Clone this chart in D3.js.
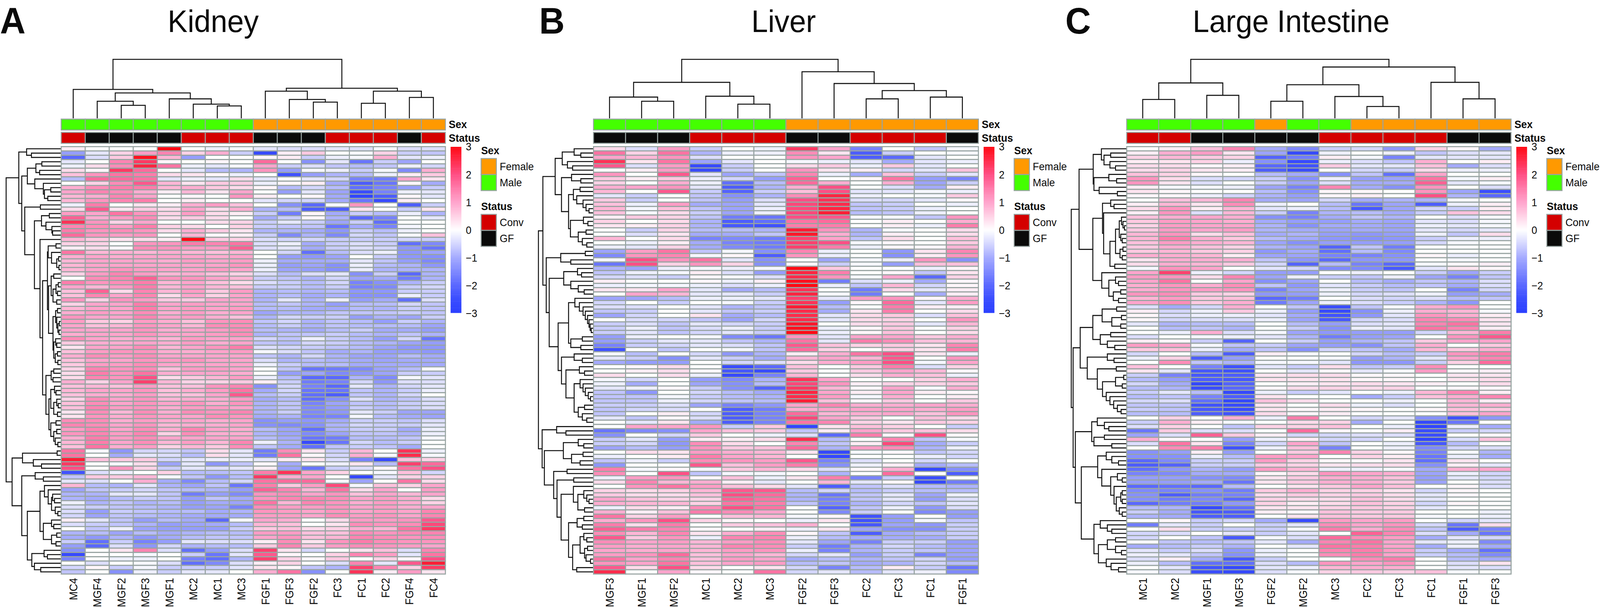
<!DOCTYPE html>
<html>
<head>
<meta charset="utf-8">
<script src="https://cdn.jsdelivr.net/npm/d3@7/dist/d3.min.js"></script>
<style>
html, body { margin:0; height:100%; background:#fff; overflow:hidden; }
svg { display:block; width:100vw; height:100vh; }
text { font-family:"Liberation Sans", Arial, Helvetica, sans-serif; fill:#0a0a0a; }
</style>
</head>
<body>
<svg id="fig" viewBox="0 0 4300 1557" preserveAspectRatio="none"></svg>
<script>
var kidneySamples = ["MC4","MGF4","MGF2","MGF3","MGF1","MC2","MC1","MC3","FGF1","FGF3","FGF2","FC3","FC1","FC2","FGF4","FC4"];
var kidneySex = ["Male","Male","Male","Male","Male","Male","Male","Male","Female","Female","Female","Female","Female","Female","Female","Female"];
var kidneyStatus = ["Conv","GF","GF","GF","GF","Conv","Conv","Conv","GF","GF","GF","Conv","Conv","Conv","GF","Conv"];
var liverSamples = ["MGF3","MGF1","MGF2","MC1","MC2","MC3","FGF2","FGF3","FC2","FC3","FC1","FGF1"];
var liverSex = ["Male","Male","Male","Male","Male","Male","Female","Female","Female","Female","Female","Female"];
var liverStatus = ["GF","GF","GF","Conv","Conv","Conv","GF","GF","Conv","Conv","Conv","GF"];
var intestineSamples = ["MC1","MC2","MGF1","MGF3","FGF2","MGF2","MC3","FC2","FC3","FC1","FGF1","FGF3"];
var intestineSex = ["Male","Male","Male","Male","Female","Male","Male","Female","Female","Female","Female","Female"];
var intestineStatus = ["Conv","Conv","GF","GF","GF","GF","Conv","Conv","Conv","Conv","GF","GF"];

var sexLevels = ["Female","Male"];
var statusLevels = ["Conv","GF"];
var legendTicks = [3,2,1,0,-1,-2,-3];

var kidneyValues = [
[.2,0,0,0,3,0,-.2,-.1,-.3,-.4,-.4,-.3,-.4,-.1,-.4,-.4],
[-1.2,-.3,.5,1.1,1.4,.5,.9,-.6,-2.6,.2,.6,0,-.1,.5,-.6,-.7],
[-2,-.4,.6,2.9,.8,-1.2,0,0,.1,.2,-.6,-.2,-.1,.9,-.3,-.2],
[-.3,0,1.4,2.3,.1,0,.1,0,1.7,0,-1.4,-.3,-1.8,-.6,-1.1,0],
[-.2,.4,1.3,2.6,1.6,-.2,-.3,-.1,1,-.6,-.4,-.7,-.8,-.7,-.2,-.5],
[.4,.1,2.3,1.7,0,-.3,-.8,-.9,1.2,-1.2,-.1,-.2,-.6,-.1,-1.5,.9],
[.7,1.2,1.6,1.5,.4,.3,.1,-.2,0,-2.4,-1.2,-.9,-.8,-.2,.2,.6],
[-.8,1.7,1.7,1.6,-.3,-.2,-.3,.4,-.3,0,-.3,-.5,-1.6,-1.7,1,.3],
[0,.5,1.3,1.9,.8,.3,.6,.6,-.2,.1,.2,-1,-2.2,-1.8,.1,-1],
[.9,1.3,1.5,1.5,.8,.9,.6,.4,.1,-.8,-.5,-.8,-1.9,-1.6,-1.2,-.6],
[1,1.4,1.3,.9,.2,.8,.3,1,0,-1.2,-.3,-1.1,-2.5,-1.6,-.2,-.3],
[.8,.9,1.4,1,0,.1,0,1.2,.2,0,.1,-1,-2.8,-2.2,.1,-.3],
[.8,1.2,1.4,1.5,0,.2,0,0,-.3,-.5,-.5,-1,-1.8,-2.6,.2,0],
[-.2,1.5,0,.3,.2,.9,1.1,.7,0,-1.4,-2,-.1,1.2,0,-2.2,-.6],
[.4,1.9,.3,.6,.4,1,.4,.9,-.9,-.8,-2.2,-2.2,.3,0,-.6,.3],
[1.1,1,1.6,1.2,.5,1.1,.4,.2,-.6,-1.7,.1,-1,-.6,-.8,-.2,-.9],
[1.8,.9,1.1,1.3,.4,.6,.4,0,-1,-.6,.1,-.9,-2,-1.6,0,-.3],
[2.4,1.2,.5,1,0,0,.4,.5,-.6,-.3,-.6,-1.1,-.6,-1.9,0,0],
[1.4,1.3,1.1,1.5,.5,.4,0,.5,-.6,-.7,-.7,-1.8,-1,-1.6,-.1,0],
[1.5,1.2,1.3,1.2,.4,.9,.6,.3,-.9,-.9,-1,-1.3,-.6,-.8,-.2,0],
[1.7,1.2,1.1,1.2,0,.8,.1,.2,-.6,-1.5,-.9,-1.5,-.5,-.7,-.1,.7],
[.8,.6,.3,.4,.2,3,.6,.5,-.4,-.5,-.5,-.6,-.6,-.6,-.5,-.6],
[.5,.5,0,1.2,1.2,1.5,1.4,1.6,-.4,-.2,-1,-.6,-.4,-.6,-1.9,-1.5],
[.2,.4,.1,1.3,1.2,1.1,1.1,1.8,-.4,-.3,-1,-.6,-.4,-.5,-1.3,-1.8],
[1.6,.8,.9,.8,.9,.8,.7,.8,0,-.5,-1.9,-.8,-.4,-.2,-1.3,-1.1],
[.9,1,.9,1,1,1,.9,1,0,-1.2,-1.3,-1.1,0,-.6,-1.3,-1.4],
[.8,1,1,1,.9,1.1,1,1.1,-.2,-1,-1,-1,-.3,-.7,-1.2,-1.5],
[.8,1,1,1,1,1,1,1.2,-.2,-1.2,-1.1,-1.4,-.2,-.8,-.9,-1.3],
[.8,1,1.2,1.1,1,1,1.1,1,-.2,-1.1,-1.2,-1.4,-.2,-.9,-.9,-.9],
[.5,1.1,1.4,1.1,.8,.9,.7,.5,-.4,-.8,-.4,-.3,-1.4,-.6,-2,-.9],
[0,1.3,1.4,1.8,1.2,1.2,1,.8,-.6,-.7,-.9,-.5,-1.1,-1,-1.7,-.9],
[1.5,1.2,1.3,1.5,.8,1,.7,.4,-.4,-.6,-.8,-.5,-1.6,-1.4,-.9,-.6],
[1,.8,1.1,1.5,.8,1,.8,.7,-.6,-.6,-.8,-.6,-1.6,-1.5,-.6,-.5],
[.7,1.8,.4,1.4,.8,1.1,.6,1.1,-.9,-.8,-.9,-.8,-1.3,-1.3,-.6,-.6],
[.7,1.4,1,1.4,.4,1,.5,1,-.9,-.8,-1,-.9,-1.4,-1.4,-.2,-.6],
[1.2,.5,1.2,1.1,.6,.6,1,1,-.9,-.3,-.9,-.2,-1.2,-1,-1.9,-.4],
[.5,1,1,1.5,1,1.1,1,1,-.8,-.7,-.9,-1.2,-.8,-.8,-.5,-.7],
[.8,1,1,1.5,1,1.1,1,1.1,-.8,-.8,-1,-1,-.8,-.9,-.6,-.7],
[.9,1.1,1,1.3,.9,1.1,.9,1,-1.1,-.9,-.9,-.7,-.7,-.7,-.6,-.7],
[1.2,1,1,1.4,1,1.1,.9,.7,-.9,-.5,-.6,-.6,-1.2,-.9,-1.1,-.6],
[1.1,.6,.5,1.1,.9,.7,1.2,1.3,-.7,-.5,-.9,-.7,-.8,-1.2,-.6,-.9],
[1,.7,.8,1.2,1,.8,1.3,1.3,-.8,-.6,-.9,-.7,-.8,-.8,-.8,-1.1],
[1,1,1,1.2,.9,1,1.1,1.3,-.8,-.9,-1,-.8,-.6,-1,-1,-1.2],
[.9,1,1,1.2,1,1,1.1,1.3,-.9,-.7,-.7,-.6,-.8,-.9,-.7,-.9],
[1.3,1,.9,1,.8,1.1,1,1,-.5,-.7,-.2,-.6,-.8,-1.2,-.5,-1.8],
[.6,.9,.9,1,.9,1.1,.9,1,-.7,-.8,-.5,-.6,-.8,-.9,-1.1,-1.2],
[.3,1,1,1.3,.8,1,1.2,1.5,-.4,-.5,-.6,-.7,-.8,-1.1,-1.3,-1.3],
[.7,1.1,1.2,1.2,.9,.9,1,1.1,-.1,-.4,-.7,-1,-.9,-1.2,-1.2,-1.3],
[.9,1.3,1.1,1.3,1,1,1,1,-.7,-.9,-.5,-.9,-1.1,-1.1,-.8,-1],
[.7,1,1,1.2,1.1,1.2,1,1,-.4,-.9,-.8,-.9,-1,-1.1,-1,-1],
[.6,1.1,1.1,1.3,1,1,1,1,-.2,-.6,-.8,-.8,-1,-1,-1,-1],
[.5,1.4,1.2,1.3,.7,1.1,1.1,1,0,-.7,-1.8,-1.7,-1.5,-1.1,-.8,-.1],
[.4,1.5,1.2,1.6,.9,1,1,.9,0,-1.2,-1.1,-1.5,-1.3,-1.1,-.6,-.6],
[.4,1.4,1.2,2,.4,.6,.8,1.1,-.2,-.8,-2,-2,-.9,-1.5,-.1,-.3],
[.9,.5,1,2.2,.8,.5,.5,.6,.2,-.6,-1.7,-1.6,-.5,-1.3,-.4,-.4],
[.7,.8,.7,1.1,.7,.7,1.2,1.4,-1.4,-.5,-1.6,-2,-.3,-.9,-.5,-.3],
[.8,1,1,1.2,.7,.9,1.1,1.6,-1,-.5,-1.8,-1.8,-.7,-.9,-.6,-.2],
[.7,.9,.9,1.1,.7,.7,1,1.9,-.8,-.6,-1.9,-2.2,-.7,-.9,-.5,0],
[.5,1.3,1,1.2,.8,.9,.9,1.1,-1,-.8,-1.9,-1.4,-.4,-.9,-.7,-.4],
[.7,1.3,1,1.2,1,1.2,.9,1.2,-.9,-.7,-1.6,-1.1,-.7,-.8,-.6,-.4],
[.7,1.4,1.1,1.2,.9,1.1,1.1,1,-.9,-.7,-1.5,-1.2,-.6,-.8,-.6,-.4],
[.3,1.3,.8,1.3,.9,1.3,1.2,1.4,-.9,-.6,-1.5,-1.3,-.3,-.6,-1.1,-1.1],
[.3,1.2,.9,1.2,1,1,1.3,1.2,-1,-.9,-1.6,-1.6,-.1,-.8,-1,-1.1],
[1.3,1.3,.9,1.1,.9,1,.9,1,-1.4,-1.2,-1.3,-1,-.6,-.6,-.7,-.4],
[1.4,1.3,1,1.2,.8,.9,.9,1,-1.4,-1.5,-1.4,-.9,-.5,-.6,-.6,-.3],
[1.1,1.4,1,1.3,.9,1.4,1,.9,-.8,-1.1,-1.9,-.9,-.6,-.6,-1,-.2],
[1.2,1.4,1.1,1.4,.5,1.3,.9,.9,-.9,-1.1,-1.5,-1.1,-.7,-.7,-.9,-.2],
[.9,1.5,1.1,1.3,1,1,1,1,-.8,-1,-1.8,-1.7,-.8,-.8,-.7,-.1],
[.8,1.5,1,1.3,.8,1.1,.8,1.4,-.2,-.9,-2.6,-1.8,-.5,-.8,-.6,0],
[.7,1.6,.9,1.1,.5,.8,.6,1.3,-.7,-1,-1.9,-.7,-.6,-.7,-1,0],
[1.6,-.1,-1.3,-.5,-.5,-.7,.4,-.3,-1.7,1.3,.3,-.6,.8,0,2.4,-.2],
[1.6,0,-1,-.3,-.4,-.8,.4,-.3,-1.7,1.6,.1,-.5,.9,-.1,2.5,-.1],
[2.7,.7,.6,.6,-.5,-.3,-.2,-.2,-.3,.2,.3,-.4,-1.6,-2.6,.7,.5],
[2.3,0,-.1,.4,-1.1,-.3,-1.3,-.7,.1,-1,0,-.2,.3,-.8,2.2,1.7],
[2,0,1.2,.5,-.6,-.3,-.4,-.3,.2,-1.1,-1.8,-.6,-.4,.1,1.6,2],
[-2.4,-.4,-.2,0,.5,-.8,-.8,-.7,1.5,2.4,1,.5,0,-.1,.7,-.5],
[-.7,.6,.6,.8,-.1,-.7,-1.3,-.8,2.3,.9,1,0,-2.7,-.3,.5,.5],
[-.3,-.4,0,.9,-1,-1.5,-.8,-.5,1.6,1.7,1.7,-.1,-1.1,0,1.6,.4],
[.8,-.8,-.9,-.3,-.9,-1.1,-.7,-1.8,1.5,.6,1.1,2.1,-.1,.7,.5,1],
[-1.1,-.7,-.6,-.5,-.7,-.8,-.9,-1.2,1.8,1.4,.8,1.6,.4,1,0,1.1],
[-.9,-.9,-.3,-.3,-.7,-1.7,-1.2,-1.5,1.2,1.3,1,1.2,.7,1,.8,1],
[-.9,-1,-.8,-.6,-.7,-1.2,-.7,-1,1.2,1.4,1.4,1.3,1,1.1,.9,.4],
[-.2,-.9,-.7,-.9,-.8,-1.2,-1,-1.1,1.6,.8,1.4,1.2,.9,1.1,.9,.5],
[-.4,-.6,-.7,-.8,-.9,-1.2,-1.1,-1.6,1.3,1.1,1.1,1.2,1,1.1,.9,1],
[-.4,-1.2,-.6,-.7,-.8,-.8,-1,-.9,1.2,1.1,1,1.2,1,1.1,1,1.4],
[-.5,-1.1,-.7,-.8,-.9,-1,-1,-1,1.1,1.1,1,1.3,1.1,1.2,1,1.4],
[.2,-.3,-.7,-1.2,-.8,-1,-2,-.1,1,.9,0,.4,1.1,1.1,1.2,1.9],
[-.4,-.6,-.7,-.9,-1.2,-1.1,-1,-.8,.8,.7,0,.3,1.3,1.2,1.3,2.1],
[0,-.7,-.2,-1.1,-1.2,-1.2,-1.2,-.6,.6,.7,.4,.5,.9,.8,1.6,2.3],
[-.9,-.8,-1.1,-.8,-1,-.9,-.8,-.8,1.1,1.1,.7,.7,1.3,1.2,1.3,1.4],
[-1,-1.3,-.9,-1.3,-1,-.8,-.7,-.7,1,1.2,.7,.8,1.4,1.3,1.2,1.3],
[-.6,-1.9,-.6,-1.6,-1.2,-.3,-.4,-.4,.2,1.3,.3,1.2,1.5,1.3,1.2,1.2],
[-1.2,-2,-.4,-1.3,-.5,-.9,-.8,-.8,.6,1.4,.6,1.1,1.3,1.2,1.1,1],
[-1.4,0,.3,1.4,-.4,-1.9,-1.2,-.4,2.2,.3,-.5,0,.3,.7,-.4,1.4],
[-2.6,0,0,-.1,0,-.6,-1.8,-.3,1.9,.1,0,.5,1.4,1.1,-.3,1.6],
[-1.6,0,-.2,-.2,0,-1.6,-1.9,-.9,2.2,.5,.1,.6,0,.5,.1,2],
[0,-.4,0,-.1,-.4,-1.9,-1.5,-.4,.2,.5,0,-.4,1.4,-.3,1.9,2.7],
[-.5,.1,-.6,-.1,-.6,-.6,-.6,-.3,.3,.1,-.7,-.9,2.2,1.4,.5,2.3],
[-.7,0,-1.4,-.2,-.6,-.3,-.3,0,.9,1.6,-1.4,0,2.4,.2,1.1,.3]
];

var liverValues = [
[.4,-.4,1.1,-.6,0,-.2,2.3,1,-1.6,0,-.7,-.1],
[1.6,.5,1.6,-.9,-.2,-.2,1.3,.3,-2.2,-.6,0,-.1],
[1,.8,1.2,-.4,0,0,1.2,1,-2.2,-2,-.3,0],
[2.4,.3,1.6,-1.1,-.3,0,-.1,-.2,-.3,-1,-.3,-.2],
[1.9,-.4,1.1,-2.6,-.6,0,.4,.6,-.2,.6,-.3,0],
[0,.2,1.1,-2.6,-.6,0,1.2,.3,.2,-.5,-.3,.7],
[1.2,0,1.9,-.3,-1.1,-.7,1.4,-.2,-1,.7,-.6,-.3],
[.6,.2,.6,-.2,-.5,-1.2,1.8,0,.1,1.6,-1.2,-1.6],
[.5,0,.9,-.2,-1.9,-.8,1.7,.9,0,.9,-1.1,-.6],
[.9,1,1.2,-.3,-2.2,-.9,.9,2,0,-.4,-1,.2],
[.8,0,1.9,-.6,-2.1,-.6,.7,2,-.3,-.3,-.1,-.2],
[-.3,-.6,0,-.7,-1.4,-.9,1.3,2.6,-.2,0,-.1,.6],
[.6,-.6,0,-.7,-1.2,-.4,2,2.4,-.4,-.5,-.3,.1],
[.7,-.2,1.1,-1,-1.1,-.3,2.1,2.5,-.7,-.6,0,-.2],
[.8,-.1,.7,-.7,-1.1,-.2,2.1,2.6,-.7,-.6,-.2,0],
[.7,-.1,.4,-.6,-1.1,-.2,2.1,2.7,-.8,-.7,-.2,0],
[.2,.6,.5,-.7,-1.7,-1.8,2,1.9,-.1,-.1,-.7,1.2],
[.5,0,.4,-.9,-2.2,-1.9,1.6,1.7,0,.2,0,.9],
[.3,.2,.5,-.9,-2.3,-2.4,1.5,1.5,0,.2,-.2,1.5],
[0,-.6,.5,-.8,-.8,-.9,2.7,1.2,-.9,-.1,0,.4],
[0,-.4,.3,-1,-1,-.7,2.8,.9,-.9,.2,0,.4],
[.8,0,.4,-1.6,-1.5,-1.7,2.2,1,-.7,.4,0,.7],
[0,-.2,.2,-1,-1.6,-1.7,2.2,2,-.1,.1,0,.6],
[-.2,-.3,.5,-1,-1.5,-1.7,2.2,1.5,-.2,.1,.1,.8],
[-1.1,1.1,1.6,-.7,-.1,-1.4,1.4,-.2,0,-1.3,.3,1.4],
[-1.5,1.2,1.4,-.1,.1,-2.2,1.2,-.2,0,-1.4,.2,1.2],
[-.1,2,1.2,1.6,-.3,-1.4,0,-1.1,-.1,-.2,1.2,-1.4],
[-1.8,2,.5,1.2,.5,-1.4,.1,-.6,-.1,-1.2,.7,.7],
[-.9,-1.1,-.2,-.1,-.2,-.1,3,.6,0,0,-.2,.1],
[-.7,-.2,-.1,.2,-.4,-1.2,2.6,1.5,0,.1,-.7,.3],
[-.5,-.4,-.6,.1,-.1,-.4,2.5,1.2,-.1,1,-2,.5],
[.2,0,0,.1,-.2,.2,2.9,-1.7,-.4,-.2,-1,.1],
[-.2,-.1,-.1,-.2,-.4,-.2,3,-.2,-.7,.8,-.5,.1],
[.3,.3,1,-.3,-1,-.8,2.4,0,-1.7,.4,-.3,.2],
[0,1,.8,-.3,-.3,-.6,2.6,-.1,-1.7,0,-1,.2],
[-1.1,-1.1,-.8,-.2,-.2,-.3,2.2,-.3,1.1,1.2,.1,.9],
[-.5,0,-.6,0,-.1,-.6,2.4,-1.2,.1,1.7,-.3,1.1],
[-.4,-.4,0,-.3,-.9,-.7,2.7,-.8,0,1.5,.2,.2],
[-.7,-.6,0,-.3,-.7,-.6,2.5,-1,.3,1.5,0,.4],
[-1.1,-.5,0,.3,-1,-.8,2.5,-.3,.4,.6,-.4,.7],
[0,-.4,-.5,-.7,-1.1,-.5,2.5,-.3,.4,.5,0,1.2],
[-.6,-.4,-.7,-.3,-.5,-.6,2.8,0,.4,.6,-.3,.8],
[-.6,-.2,-.7,-.4,-.2,-.6,2.9,-.2,.1,.6,0,.5],
[-.6,-.3,-.7,-.5,-.3,-.6,3,-.2,.1,.7,0,.4],
[-1.2,-.2,0,-.1,-1.5,-1.8,1.2,-.3,1,1,.6,.9],
[-1.2,-.6,-.3,-.3,-.7,-.9,1.6,-.3,1.5,1.3,.7,.8],
[-1.6,-.6,-.5,-.3,-.4,-.7,1.9,.7,.5,.6,.3,1.4],
[-2.4,0,-.7,0,-.1,-.7,1.7,.5,0,.5,.3,1.5],
[-.1,-.8,0,-.5,-1.3,-.9,.2,.9,1.6,2,.3,-.2],
[-.3,-.6,-1.4,-.3,-.6,-1,.8,1,.8,1.9,0,1.2],
[-1,-1.2,-1.2,0,-.5,-.4,.4,.9,1.1,2,-.1,1],
[0,.1,.4,0,-2.5,-2,.7,0,.6,1.5,-.4,.5],
[0,.2,.4,.1,-2.3,-2.5,.6,0,.6,1,.8,.1],
[.4,0,.4,-.2,-2.6,-1.6,.8,0,.4,.9,.7,-.2],
[-.1,-.5,0,-1.2,-1.5,-.9,2.4,1,0,0,.5,.9],
[-.2,-1,0,-1.1,-1.4,-.8,2.1,1.2,.2,.5,.5,.6],
[-.3,-.2,.1,-.6,-1.4,-2.1,2.3,.8,.1,1,-.1,.9],
[-.7,-1.3,0,-.5,-.8,-1,2.6,1,.2,1,.2,.1],
[-.7,-.7,-.1,-.6,-.8,-.9,2.5,1.1,-.1,.9,0,.2],
[-.7,-.7,-.2,-.5,-.7,-.8,2.7,.7,.1,.6,0,.6],
[-.6,-.6,-.4,-1.1,-1.6,-1.3,1,1.4,.9,.9,1,.9],
[-.7,-.5,-.4,0,-2.2,-1.7,.9,1,1,1,.9,1.1],
[-.7,0,.2,-.5,-2.2,-1.6,1.7,.8,.9,1,.7,1.2],
[-.3,-.7,.1,-.4,-2.2,-1.6,2.1,1,.6,0,.7,.4],
[0,-.3,.3,-1,-2.2,-1.6,1.6,1.4,.5,.3,.6,.5],
[0,1,1,1.2,-.6,.6,-2.8,.3,.7,.5,0,-.6],
[-1.8,-1.5,-1.4,1,.7,.6,-.7,.2,1,.6,.7,.4],
[-1.4,0,-.5,.6,0,-.2,-.4,-2,1.5,.1,2,.1],
[-.6,-.3,-1.2,.2,.2,.4,2.5,-.8,0,1.4,-.7,-.1],
[-.6,-.5,-1.3,1.3,.4,0,1.4,-.7,.2,2.1,-1,-.6],
[-1.1,-.8,-1.2,1.2,.6,.7,1.7,-.9,1.1,1.3,-.9,-.2],
[0,.4,.3,1.1,.9,.8,.3,-2.7,-.1,.1,-.7,-.5],
[-.2,0,.2,1.5,1,.8,0,-2.7,0,0,-.2,-.5],
[-.7,-.2,-.6,1.3,1.2,1.1,1.9,-1.6,-.4,0,-.5,0],
[-1.3,0,0,1.9,.7,1.1,1.5,-1.4,-.2,.2,-1,-.8],
[1.5,-.1,.1,-.1,.6,.8,.4,-.4,.1,.9,-2.7,-1.4],
[1.3,0,2,-.7,-.1,-.1,0,-.9,0,1.7,0,-2.2],
[-.2,1.1,1.2,.1,.7,-.2,.3,1.5,-1.6,-.6,-2.5,0],
[.4,1.4,.8,.9,.2,-.3,0,.8,-.3,.1,-2.6,-1.7],
[0,1.2,1.6,1.1,.7,.4,-.3,-2.2,-.7,-.4,-.8,-.9],
[.5,.4,.5,.8,1.9,1.9,-.8,-.5,-.8,-.6,-.8,-.8],
[.6,.4,.4,.7,2,1.7,-.9,-1.8,-.7,-.3,-1.1,-.2],
[1,.7,.5,.5,1.8,1.6,-.9,-1.6,-.7,-.3,-1.2,-.4],
[.9,.8,.8,.5,1.6,1.5,-.7,-1.6,-.9,-.5,-.7,-.3],
[-.2,.4,.2,1.3,2,1.6,0,-2.1,-.7,-.2,-1.3,-.4],
[.9,.2,.7,1.5,1.3,1,0,-1.5,-.6,0,-1.5,-1.2],
[1.6,.5,1.1,0,.7,.8,-.1,.1,-2.4,-1.2,0,-1.2],
[.9,1.2,2,.5,.1,0,-.2,.3,-2.4,-1.2,-.1,-.7],
[1.5,.4,1.5,0,.6,.7,.9,0,-2.3,-1.1,-1.3,-.6],
[1.8,1.5,1.4,.1,0,.2,-.2,.3,-1.1,-1.4,-1.4,-.6],
[1.3,.8,1.4,.3,.9,1.3,.1,-.7,-2.2,-1,-.8,-.6],
[1.9,.6,1.2,-.2,1.4,1.4,-.2,-.8,-1,-1,-1,-.6],
[1.3,1,1.1,.8,1.1,1.3,-.3,-1.1,-1.6,-.6,-.6,-1.2],
[1.1,.9,1,.8,1.4,1.3,-.6,-1.7,-.9,-.5,-.8,-1.1],
[1,.9,1,.8,1.1,1.2,-.2,-1.6,-.9,-.6,-.7,-1.1],
[1.1,1.2,1.7,.7,1,.8,-.5,-.3,-1.2,-.6,-1.6,-1.1],
[1.6,1,1.4,.7,1.1,1,-1,-.8,-.9,-.7,-.5,-1.2],
[1.2,1,1.6,.7,1,1.1,-.8,-.7,-1,-.9,-.5,-.8],
[1.9,.4,2,.4,0,.3,-.5,-1.6,-.8,.2,-.6,-1.8],
[2.5,0,1,.1,0,1.6,-.5,-.3,-.8,-.3,-.2,-1.5]
];

var intestineValues = [
[0,.2,.7,1.4,-1,-1.5,-.6,-.5,-1.3,.5,.1,-1],
[.2,.9,1.1,.3,-1.1,-2.6,-.2,0,-.2,-.7,-.4,-.3],
[.5,.8,.6,.5,-2.1,-1.7,.2,-.1,-1.6,-.3,-.3,-.3],
[.2,.3,.5,-.2,-1.4,-2.6,-.2,-.4,-.7,.9,0,.2],
[.4,.4,.1,.2,-2,-2.4,.6,-.3,-.3,.7,-1,-.4],
[.4,.5,.3,.2,-2.2,-2.5,0,-.5,-.6,.4,-.2,-.2],
[.7,.5,.1,0,-.8,-1,-1.4,-.7,-1.9,1,0,0],
[1.2,.4,-.4,-.5,-.6,-1.4,-.2,-1.2,-1.1,1.6,-.1,.2],
[1.2,.3,-.4,0,-.6,-1.1,-.4,-1,-1,1.8,-.3,-.1],
[.2,-.1,-.1,-.2,-1.1,-1.6,1.4,-1,-1.4,1.2,0,-.4],
[.3,.1,0,0,-.8,-1.4,.1,.1,0,1.2,-1.1,-2.5],
[.1,.1,-.2,-.5,-.9,-1.2,.1,.2,0,2,-.9,-2],
[0,.7,.8,1.4,-1,-1.1,-.5,-1,-.9,-.9,-.1,0],
[.2,.8,.3,1.3,-.2,0,-.8,-1.8,-1.1,-2.2,-.2,.2],
[.4,1.2,.2,.8,-.3,-.2,-.8,-2.3,-1.1,-.5,-.6,.2],
[.2,1.2,-.4,.8,-.6,-1.6,-.9,-.8,-1,-.6,.7,.4],
[.7,.9,1,.9,-1.4,-1.6,-1,-.7,-.9,0,-.4,-.1],
[.6,1.1,1,.9,-1,-1.2,-1.2,-1,-1.1,-.3,-.4,-.1],
[.5,1.1,1,1,-.9,-1.4,-1,-1,-1.1,-.2,-.3,-.1],
[.6,1.1,1,1.1,-.9,-1,-1.1,-1,-1.1,-.3,-.5,-.3],
[.8,1.2,.4,.7,-1,-.9,-1.2,-1.3,-1.2,-.2,-.7,.4],
[.8,1.5,.9,.6,-.8,-1,-1.3,-1.4,-1.3,-.6,-.2,-.2],
[.7,1.1,.9,.8,-1.1,-1.4,-1.2,-1.2,-1.2,-.5,-.1,0],
[.6,.9,.7,.5,-.9,-1.1,-2.1,-.7,-1.7,0,0,0],
[.6,.8,.6,.5,-1.3,-1,-1.9,-.8,-1.5,0,0,0],
[.9,.9,.8,.2,-1.1,-1.1,-1.6,-1.6,-1.4,.1,-.2,0],
[.3,.9,.9,.9,-.7,-1.3,-2,-1.3,-1.3,0,-.1,0],
[.4,.9,.8,.6,-.5,-2.1,-.8,-1.6,-2,-.1,.1,.2],
[-.1,1.2,1,0,-.3,-.5,-1.5,-1.5,-2.3,-.3,.3,.1],
[1,2.2,-.2,-.5,-1.2,-1.2,0,-.2,0,-.6,-1.1,-.6],
[1.1,1.2,.4,1.4,-1.1,-.2,-.6,-.7,-.2,-1.1,-1.6,-.7],
[1,1.6,0,1,-1.4,-1.1,0,-.8,-1,-.7,-.9,-.4],
[.9,1.2,.9,1.3,-.7,-1.3,-.3,-.6,-.8,-.7,-1,-.4],
[.9,1.2,1.1,1.2,-1.6,-1.1,-.2,-.6,-.7,0,-1.6,-.5],
[1.2,1.3,.6,.5,-1.3,-1.2,-.2,-.5,-.4,-.2,-1.2,-1],
[.8,1.1,.6,.7,-2,-1.7,0,-.4,-.5,-.4,-.8,-.7],
[1,1.3,.6,.9,-1.7,-1.1,-.2,-.4,-.6,-.9,-1.3,0],
[-.4,-1,-.5,.9,0,-.7,-2.5,-.7,-.1,.9,1.2,0],
[.2,-.5,-.2,.6,-.2,-1.2,-2.6,-1.4,-.2,.9,.8,-.1],
[.1,-.4,-.2,-.2,-.3,-1,-2.4,-1.3,-.3,1.2,.9,.2],
[.1,-.5,-.4,-.4,-.2,-1.1,-2.3,-.5,-.4,1.4,1.3,.3],
[-.3,-.9,-.8,-.8,0,-.8,-1.2,-.4,-.3,1.4,1.6,.3],
[0,-.8,-.7,-.9,0,-.6,-1.4,-.2,-.3,1.6,1.4,.2],
[0,-.2,.9,-.4,-.1,-1.1,-1.3,-1.2,-1.2,-.5,.8,1.5],
[-.4,0,-.1,-.2,-.3,-.9,-1.7,-1.2,-1.1,0,1.2,1.9],
[.2,.1,-.6,-2.1,0,-.6,-1.2,-.9,-.7,.6,1,1],
[1.1,1,-.1,-.7,-.6,-1.1,-1.2,-1.4,-.7,.9,0,.6],
[.6,.7,-.2,-1,-.7,-1.4,-.5,-.7,-1,.8,.6,.9],
[-.5,0,-.8,-2.2,.2,-.1,0,-.5,-.8,-.6,1.2,1.5],
[-.2,.5,-2.2,-1.2,0,0,-.1,-1.2,-.9,-.3,1,1.4],
[0,1.3,-.7,-.9,-.1,-.1,-.3,-1.3,-1.3,-.6,.5,1.7],
[.7,0,-1.6,-2.4,-.3,-.6,.4,-.7,-.6,1.3,0,0],
[.3,-.3,-2.3,-2.4,0,-.3,.1,-.3,-.1,1.1,.1,.2],
[-.6,-1.6,-2.3,-2.2,.3,.4,.4,.1,.1,0,.3,.3],
[-.8,-1.2,-2.2,-2.3,.3,.3,.3,.1,.1,0,.3,.4],
[-.5,-1,-2.7,-2.1,0,.2,.3,.4,.3,.2,0,.4],
[-.8,-.9,-2.5,-2,.1,.4,.5,.4,.5,0,.1,.1],
[-.6,-.3,-.8,-2.7,-.2,-.6,-.3,0,-.2,.8,1.4,.2],
[-.8,-.7,-1.6,-2.2,.3,0,0,-1,-.6,.7,.9,1.4],
[-.5,-.4,-1.9,-2.7,.7,.4,0,0,-.2,0,.8,.2],
[-.7,-.7,-2.4,-2.6,.3,0,.4,-.2,-.4,0,.8,.9],
[-.6,-.7,-2.3,-2.6,.3,.1,.2,.1,0,.1,.7,.6],
[-.8,-.8,-2.2,-2.4,.4,.1,.2,0,0,0,.7,1],
[0,.5,0,.9,-.2,1.5,0,-.5,-.3,-1.4,-2.4,-1.3],
[-.6,.9,.2,-.1,0,.4,.5,-1,0,-2.7,-1.8,0],
[-.4,.5,0,-.7,.5,.5,.7,0,-.2,-2.8,-.2,-1],
[-1.8,.6,-.4,-.4,0,1.7,.1,0,.2,-2.5,-.6,-.5],
[-1.1,-.4,1.8,.6,.2,-.5,-.5,-.4,-.4,-2.5,0,.1],
[.9,.1,0,-1.2,-.2,.2,-.5,-.5,0,-2.8,-.4,.7],
[-.4,1.6,.3,-1.6,-.5,1,-.7,0,-.2,-2.3,-.8,0],
[0,1.3,1.5,-2.4,-.2,.7,-1.6,0,-.2,-1.5,-.5,-.4],
[-1.4,-1.2,.2,-1.2,0,.6,1.4,.5,.1,-1.6,-.1,-.9],
[-1.4,-1.4,-.2,-.8,1.1,1,0,.5,.2,-1.8,-.2,-1],
[-2,-1.5,-.6,-.6,1.1,.5,.1,.1,.3,-1.9,.3,0],
[-2.2,-2.1,-.6,-.6,.6,.5,.3,.4,.4,-1.4,.2,-.3],
[-1.9,-1.3,-.9,-1.2,1.1,.8,-.2,-.2,-.1,-1,.9,1],
[-1.6,-1.5,-1,-1,.1,.4,1.2,1,.9,-1.1,-.2,-.5],
[-1.2,-1.2,-1.4,-1.5,.3,.6,.9,.9,.7,-1.2,-.3,-.5],
[-1.2,-1.2,-1,-1.8,.3,.6,.9,.9,.6,-1.1,0,-.4],
[-2,-1.9,-2,-.8,0,.3,.6,1,.7,0,.1,-.4],
[-1.5,-1.6,-1.4,-1.7,.6,.9,.5,.5,.3,-.5,.1,0],
[-1.4,-2.2,-1.7,-1.6,.4,.6,.5,.6,.4,-.3,.1,0],
[-1.4,-1.7,-1.5,-2,.5,.4,.4,.7,.4,-.3,0,0],
[-2,-1.7,-1.7,-1.3,.5,.2,.4,.7,.5,-.5,.1,0],
[-.8,-.9,-2.6,-1.9,.3,.3,.5,.6,.5,-.3,0,0],
[-.6,-1,-2.3,-2.2,.2,.1,.7,.6,.6,0,0,-.2],
[-.9,-1,-2.2,-2.2,0,.3,.7,.6,.6,-.1,0,-.2],
[0,.1,-.6,-.5,-1,-2.6,1.1,1,1.1,0,-.5,-.3],
[-1.7,-.3,-.6,0,-.6,-.3,1.3,1,1.2,-.5,-1.8,.4],
[0,.4,-.6,-.6,-.6,-.1,1.5,.9,1.3,-.7,-2.2,-1.6],
[-.5,-.4,0,-.3,-.6,-.3,0,1.8,1.4,-.4,-1,-1.8],
[-.5,0,-.7,-2.3,-.1,-.4,1.7,1.3,1.1,-1,-.3,-.5],
[-.1,-.7,-.8,-.7,-.3,-1,1.4,1.6,1,-.3,-.2,-1.5],
[-1,-.8,-.6,-.9,0,-.3,1.6,1.5,1,-1,-.2,-1],
[-.3,-.6,-.4,-1.3,-.2,0,1.4,1.5,1.1,-.6,-1,-1.9],
[-.2,-.3,-.7,-1.4,-.2,0,1.3,1.5,1,-.6,-.8,-1.5],
[-.4,.2,-1,-2.3,-.6,0,0,1.3,1.5,0,-.8,-1],
[-.2,-.8,-1.9,-1.9,-.4,-.8,1.2,1,1.2,0,-.4,.3],
[0,-.3,-2.4,-2.7,-.3,-.2,.8,.9,.9,0,-.3,-.4],
[-.1,-.4,-2.5,-2.7,-.4,-.1,.5,.6,.5,.7,-.1,0]
];

// dendrograms: [merge height, left, right], a plain number is a leaf (row or column index)
var kidneyColTree = [100,
  [49,0,[43,[29,1,[22,2,3]],[33,4,[24,5,[21,6,7]]]]],
  [51,[46,8,[32,9,[27.5,10,11]]],[46,[25.5,12,13],[35.4,14,15]]]];
var liverColTree = [100,
  [61,[36,0,[29,1,2]],[37.5,3,[24,4,5]]],
  [79,6,[59,7,[47,[33,8,9],[36,10,11]]]]];
var intestineColTree = [100,
  [60,[32,0,1],[39,2,3]],
  [87,[57,[29,4,5],[37,6,[20,7,8]]],[61,9,[33,10,11]]]];

var kidneyRowTree = [148,
  [114,
    [93,0,[80,1,2]],
    [106,
      [91,[68,[52,3,4],[58,5,6]],[71,7,[48,8,[45,[28,9,10],[36,11,12]]]]],
      [98,[56,13,14],
        [72,[53,[32,15,16],[41,17,[25,18,[23,19,20]]]],
          [57,21,[50,
            [37,[35,[14,22,23],[26,24,[12,[7,25,26],[6,27,28]]]],
              [34,[27,[20,29,30],[22,[14,[8,31,32],[10,33,34]],[12,35,36]]],
                [22,[15,[10,37,38],[12,39,[9,[5,40,41],[6,42,43]]]],[20,[15,44,[12,45,46]],[16,[10,47,48],[9,49,50]]]]]],
            [41,[27,[20,51,52],[22,53,54]],
              [33,[28,[18,55,[14,56,57]],[20,[12,58,[8,59,60]],[10,61,62]]],[28,[14,63,64],[20,[12,65,66],[16,67,[9,68,69]]]]]]]]]]]],
  [132,
    [104,[11,70,71],[75,72,[53,73,74]]],
    [106,[70,75,[48,76,77]],
      [91,
        [57,[45,78,[35,79,[26,[23,80,[18,81,82]],[16,83,[9,84,85]]]]],[48,[26,86,[20,87,88]],[26,[12,89,90],[14,91,92]]]],
        [79,[46,93,[37,94,95]],[72,96,[55,97,98]]]]]]];

var liverRowTree = [148,
  [136,
    [103,
      [84,[52,0,[34,1,2]],[70,3,[56,4,5]]],
      [86,[59,6,[34,7,8]],
        [67,[54,[36,9,10],[45,11,[28,12,[20,13,[12,14,15]]]]],
          [62,[27,16,[15,17,18]],[41,[20,19,20],[30,21,[18,22,23]]]]]]],
    [127,
      [88,[22,24,25],[61,26,27]],
      [119,
        [80,[43,28,[32,29,30]],[61,31,[41,32,[25,33,34]]]],
        [95,
          [67,[50,35,[38,36,[28,37,[22,38,[16,39,[12,40,[9,41,[6,42,43]]]]]]]],[61,[30,44,45],[34,46,47]]],
          [86,[52,48,[30,49,50]],
            [74,[38,51,[24,52,53]],
              [52,[36,54,[28,55,[22,56,[14,57,[8,58,59]]]]],[41,[24,60,61],[30,62,[18,63,64]]]]]]]]]],
  [138,
    [99,65,[74,66,67]],
    [132,
      [81,[41,68,[26,69,70]],[59,[28,71,72],[36,73,74]]],
      [107,[71,75,76],
        [98,[53,77,78],
          [87,[54,79,[42,[26,80,[18,81,[12,82,83]]],[24,84,85]]],
            [67,[44,[26,86,87],[30,88,89]],
              [56,[36,[26,90,[18,91,92]],[24,[16,93,94],[20,95,[8,96,97]]]],[45,98,99]]]]]]]]];

var intestineRowTree = [149,
  [128,
    [90,
      [68,0,[61,[43,1,2],[45,3,[30,4,5]]]],
      [88,[48,6,[27,7,8]],[74,9,[25,10,11]]]],
    [91,
      [65,[43,12,[34,13,14]],
        [62,15,[45,[30,[20,[14,16,[10,17,[6,18,19]]],[16,20,[12,21,22]]],[18,[10,23,24],[12,25,26]]],[32,27,28]]]],
      [67,29,[48,[30,30,[22,31,32]],[36,[16,33,34],[22,35,36]]]]]],
  [144,
    [125,
      [91,[66,[27,37,38],[40,[14,39,40],[16,41,42]]],[71,[43,43,44],[52,45,[32,46,47]]]],
      [106,[52,48,[34,49,50]],
        [79,[28,51,52],[65,[30,[8,53,54],[12,55,56]],[55,57,[45,58,[35,59,[25,60,[15,61,62]]]]]]]]],
    [138,
      [94,[79,63,[60,64,[48,65,66]]],[88,[60,67,68],[40,69,70]]],
      [122,
        [78,[55,71,[40,72,[22,73,74]]],
          [67,75,[43,[25,76,[12,77,78]],[34,79,[28,[16,[12,80,81],[12,82,83]],[20,84,[12,85,86]]]]]]],
        [88,[71,87,[52,88,[40,89,90]]],[76,[52,[30,91,92],[30,93,[14,94,95]]],[55,96,[42,97,[22,98,99]]]]]]]]];

var heatColor = d3.scaleLinear()
  .domain([-3,-2.5,-2,-1,-.5,0,.5,1,1.5,2,2.5,3])
  .range(["#2b40ff","#3a4dff","#5a68ff","#a4aaff","#d4d6ff","#ffffff","#ffd2e6","#ffa4cc","#ff7cab","#ff4f85","#ff2c4c","#ff0a14"])
  .clamp(true);
var sexColor = d3.scaleOrdinal().domain(sexLevels).range(["#ff9900","#44ff00"]);
var statusColor = d3.scaleOrdinal().domain(statusLevels).range(["#d40000","#0a0a0a"]);
var gridColor = "#98a4a2";

var svg = d3.select("#fig");

function draw_tree(g, tree, place, value) {
  // place(h, p) turns a merge height and a leaf position into x,y
  function walk(node) {
    if (typeof node === "number") return {pos: value(node), h: 0};
    var a = walk(node[1]), b = walk(node[2]);
    var p = d3.path();
    var p0 = place(a.h, a.pos), p1 = place(node[0], a.pos), p2 = place(node[0], b.pos), p3 = place(b.h, b.pos);
    p.moveTo(p0[0], p0[1]);
    p.lineTo(p1[0], p1[1]);
    p.lineTo(p2[0], p2[1]);
    p.lineTo(p3[0], p3[1]);
    g.append("path").attr("d", p.toString())
      .attr("fill", "none").attr("stroke", "#111").attr("stroke-width", 2.6);
    return {pos: (a.pos + b.pos) / 2, h: node[0]};
  }
  walk(tree);
}

function draw_panel(opt) {
  var g = svg.append("g");
  var samples = opt.samples, values = opt.values;
  var x = d3.scaleBand().domain(d3.range(samples.length)).range([opt.left, opt.right]);
  var y = d3.scaleBand().domain(d3.range(values.length)).range([375.5, 1470]);

  g.append("text").attr("x", opt.letterX).attr("y", 86).attr("font-size", 95).attr("font-weight", "bold").text(opt.letter);
  g.append("text").attr("x", opt.titleX).attr("y", 82).attr("font-size", 80).attr("text-anchor", "middle").text(opt.title);

  // column dendrogram
  var hCol = d3.scaleLinear().domain([0,100]).range([303, 152]);
  draw_tree(g.append("g"), opt.colTree,
    function(h, p) { return [p, hCol(h)]; },
    function(i) { return x(i) + x.bandwidth() / 2; });

  // row dendrogram
  var hRow = d3.scaleLinear().domain([0,148]).range([opt.left, opt.left - 148]);
  draw_tree(g.append("g"), opt.rowTree,
    function(h, p) { return [hRow(h), p]; },
    function(i) { return y(i) + y.bandwidth() / 2; });

  // annotation tracks
  [{vals: opt.sex, col: sexColor, y0: 305, y1: 333, name: "Sex", base: 328},
   {vals: opt.status, col: statusColor, y0: 339, y1: 367, name: "Status", base: 363}].forEach(function(t) {
    g.selectAll(null).data(t.vals).enter().append("rect")
      .attr("x", function(d, i) { return x(i); })
      .attr("y", t.y0)
      .attr("width", x.bandwidth())
      .attr("height", t.y1 - t.y0)
      .attr("fill", function(d) { return t.col(d); })
      .attr("stroke", gridColor).attr("stroke-width", 2.6);
    g.append("text").attr("x", opt.right + 9).attr("y", t.base)
      .attr("font-size", 27.5).attr("font-weight", "bold").text(t.name);
  });

  // heatmap cells
  var rows = g.selectAll(null).data(values).enter().append("g")
    .attr("transform", function(d, i) { return "translate(0," + y(i) + ")"; });
  rows.selectAll("rect").data(function(d) { return d; }).enter().append("rect")
    .attr("x", function(d, i) { return x(i); })
    .attr("width", x.bandwidth())
    .attr("height", y.bandwidth())
    .attr("fill", function(d) { return heatColor(d); })
    .attr("stroke", gridColor).attr("stroke-width", 2.8);

  // sample names
  g.selectAll(null).data(samples).enter().append("text")
    .attr("transform", function(d, i) { return "translate(" + (x(i) + x.bandwidth() / 2 + 11) + ",1480) rotate(-90) scale(1,1.13)"; })
    .attr("text-anchor", "end")
    .attr("font-size", 27)
    .text(function(d) { return d; });

  // colour key
  var barX = opt.right + 14, barW = 29;
  var keyY = d3.scaleLinear().domain([3,-3]).range([376, 801]);
  var bands = d3.range(-3, 3, 6 / 100);
  g.selectAll(null).data(bands).enter().append("rect")
    .attr("x", barX)
    .attr("y", function(d) { return keyY(d + 6 / 100); })
    .attr("width", barW)
    .attr("height", keyY(0) - keyY(6 / 100) + .5)
    .attr("fill", function(d) { return heatColor(d + 3 / 100); });
  var tickY = d3.scaleLinear().domain([3,-3]).range([376, 803]);
  g.selectAll(null).data(legendTicks).enter().append("text")
    .attr("x", barX + 41)
    .attr("y", function(d) { return tickY(d) + 9.5; })
    .attr("font-size", 27)
    .text(function(d) { return d < 0 ? "\u2212" + (-d) : d; });

  // discrete legends
  var lx = barX + 82;
  [{name: "Sex", levels: sexLevels, col: sexColor, top: 406, base: 395},
   {name: "Status", levels: statusLevels, col: statusColor, top: 549, base: 538}].forEach(function(l) {
    g.append("text").attr("x", lx).attr("y", l.base).attr("font-size", 27.5).attr("font-weight", "bold").text(l.name);
    var sy = d3.scaleBand().domain(l.levels).range([l.top, l.top + 82]);
    g.selectAll(null).data(l.levels).enter().append("rect")
      .attr("x", lx)
      .attr("y", function(d) { return sy(d); })
      .attr("width", 41)
      .attr("height", sy.bandwidth())
      .attr("fill", function(d) { return l.col(d); })
      .attr("stroke", gridColor).attr("stroke-width", 2.6);
    g.selectAll(null).data(l.levels).enter().append("text")
      .attr("x", lx + 50)
      .attr("y", function(d) { return sy(d) + 30; })
      .attr("font-size", 27.5)
      .text(function(d) { return d; });
  });
}

draw_panel({letter: "A", letterX: 0, title: "Kidney", titleX: 573, left: 164.5, right: 1197,
  samples: kidneySamples, sex: kidneySex, status: kidneyStatus, values: kidneyValues, colTree: kidneyColTree, rowTree: kidneyRowTree});
draw_panel({letter: "B", letterX: 1449, title: "Liver", titleX: 2106, left: 1595, right: 2629.5,
  samples: liverSamples, sex: liverSex, status: liverStatus, values: liverValues, colTree: liverColTree, rowTree: liverRowTree});
draw_panel({letter: "C", letterX: 2863, title: "Large Intestine", titleX: 3470, left: 3028, right: 4061,
  samples: intestineSamples, sex: intestineSex, status: intestineStatus, values: intestineValues, colTree: intestineColTree, rowTree: intestineRowTree});
</script>
</body>
</html>
